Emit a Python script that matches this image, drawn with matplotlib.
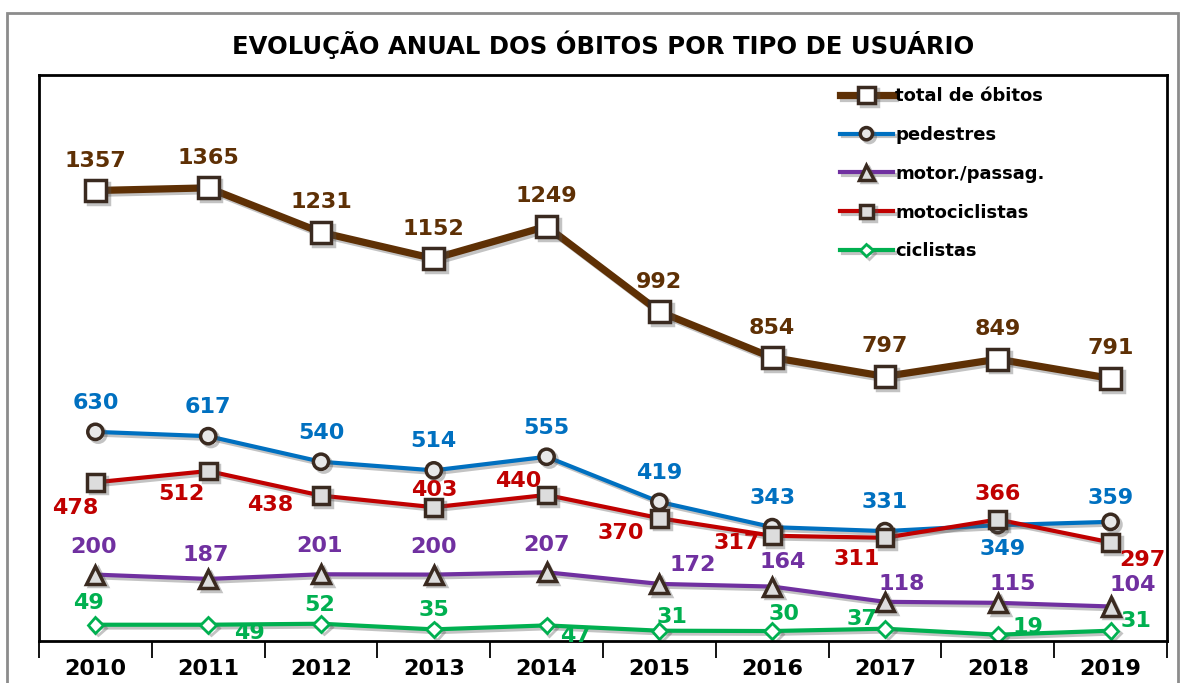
import matplotlib.pyplot as plt
import matplotlib.patheffects as pe
from matplotlib.patches import Rectangle

# dados
anos = ['2010', '2011', '2012', '2013', '2014', '2015', '2016', '2017', '2018', '2019']
total = [1357, 1365, 1231, 1152, 1249, 992, 854, 797, 849, 791]
pedestres = [630, 617, 540, 514, 555, 419, 343, 331, 349, 359]
motor_passag = [200, 187, 201, 200, 207, 172, 164, 118, 115, 104]
motociclistas = [478, 512, 438, 403, 440, 370, 317, 311, 366, 297]
ciclistas = [49, 49, 52, 35, 47, 31, 30, 37, 19, 31]

# deslocamento dos rotulos (pixels)
off_total = [(0, 30)] * 10
off_ped = [(0, 29)] * 8 + [(5, -24), (0, 24)]
off_motoc = [(-20, -26), (-27, -23), (-51, -9), (0, 17), (-28, 14),
             (-39, -15), (-35, -7), (-28, -21), (0, 26), (32, -18)]
off_motor = [(-2, 28), (-2, 24), (-1, 28), (0, 28), (0, 27),
             (33, 19), (10, 25), (17, 18), (15, 19), (22, 21)]
off_cicl = [(-7, 22), (41, -8), (-1, 19), (0, 19), (29, -11),
            (13, 14), (12, 17), (-23, 10), (30, 8), (25, 10)]

plt.rcParams['font.family'] = 'DejaVu Sans'
fig = plt.figure(figsize=(11.81, 6.83), dpi=100)
fig.patches.append(Rectangle((7/1181, -0.1), 1171/1181, 1.1 - 13/683, transform=fig.transFigure,
                             fill=False, edgecolor='#8c8c8c', linewidth=2))
ax = fig.add_axes([39/1181, 42/683, 1128/1181, 566/683])

x = list(range(len(anos)))
shadow = [pe.SimpleLineShadow(offset=(2, -2), alpha=0.35, shadow_color='#555555'), pe.Normal()]

series = [
    (total, 'total de óbitos', '#5E3005', 5.2, 's', 15, 'white', off_total),
    (pedestres, 'pedestres', '#0070C0', 3, 'o', 11, '#e8e8e8', off_ped),
    (motor_passag, 'motor./passag.', '#7030A0', 3, '^', 13, '#dddddd', off_motor),
    (motociclistas, 'motociclistas', '#C00000', 3, 's', 12, '#dddddd', off_motoc),
    (ciclistas, 'ciclistas', '#00B050', 3, 'D', 8, 'white', off_cicl),
]

for vals, nome, cor, lw, mk, ms, face, offs in series:
    ax.plot(x, vals, color=cor, linewidth=lw, marker=mk, markersize=ms,
            markerfacecolor=face, markeredgecolor='#3a2a20' if mk != 'D' else cor,
            markeredgewidth=2.5 if mk != 'D' else 2, label=nome, path_effects=shadow)
    for xi, v, o in zip(x, vals, offs):
        ax.annotate(str(v), (xi, v), xytext=o, textcoords='offset pixels',
                    ha='center', va='center', fontsize=16, fontweight='bold', color=cor)

ax.set_xlim(-0.5, 9.5)
ax.set_ylim(0, 1705)
ax.set_yticks([])
ax.set_xticks([i - 0.5 for i in range(11)])
ax.set_xticklabels([])
ax.set_xticks(x, minor=True)
ax.set_xticklabels(anos, minor=True, fontsize=16, fontweight='bold')
ax.tick_params(axis='x', which='major', direction='out', length=12, width=1.3)
ax.tick_params(axis='x', which='minor', length=0, pad=13)
for s in ax.spines.values():
    s.set_linewidth(2)

ax.set_title('EVOLUÇÃO ANUAL DOS ÓBITOS POR TIPO DE USUÁRIO', fontsize=17.5,
             fontweight='bold', pad=15)

leg = ax.legend(loc='upper left', bbox_to_anchor=(833/1181, 1 - 80/683),
                bbox_transform=fig.transFigure, frameon=False,
                prop={'weight': 'bold', 'size': 13}, handlelength=2.9,
                handletextpad=0.15, labelspacing=1.15, borderaxespad=0,
                markerscale=0.8)

fig.savefig('out.png', dpi=100)
